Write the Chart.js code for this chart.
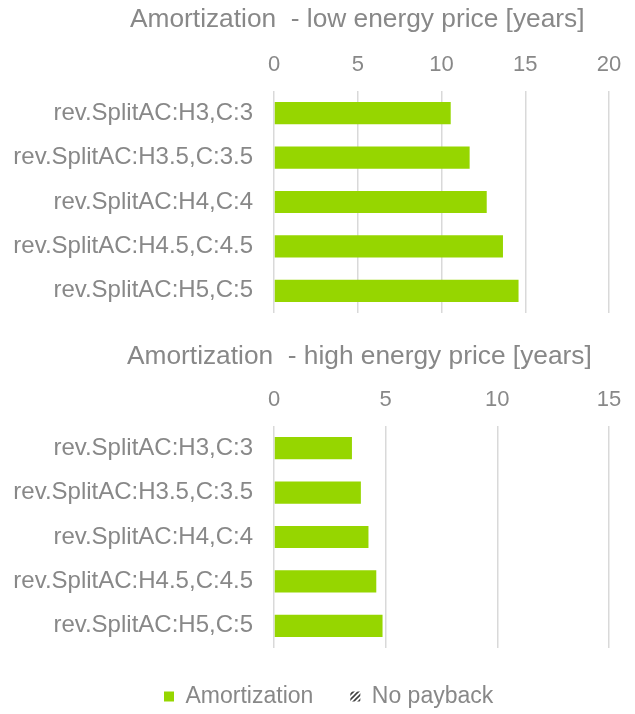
<!DOCTYPE html>
<html>
<head>
<meta charset="utf-8">
<script src="https://cdn.jsdelivr.net/npm/chart.js@4/dist/chart.umd.min.js"></script>
<style>
    html, body { margin: 0; padding: 0; background: #fff; overflow: hidden; }
    .box { position: absolute; left: 0; width: 635px; }
    #boxLow { top: 0; height: 330px; }
    #boxHigh { top: 330px; height: 388px; }
</style>
</head>
<body>
<div class="box" id="boxLow"><canvas id="graficoLow"></canvas></div>
<div class="box" id="boxHigh"><canvas id="graficoHigh"></canvas></div>
<script>
// dados
const categorias = ['rev.SplitAC:H3,C:3', 'rev.SplitAC:H3.5,C:3.5', 'rev.SplitAC:H4,C:4', 'rev.SplitAC:H4.5,C:4.5', 'rev.SplitAC:H5,C:5'];
const amortizacaoBaixo = [10.55, 11.68, 12.7, 13.67, 14.6];
const amortizacaoAlto = [3.49, 3.89, 4.23, 4.58, 4.86];
const semRetorno = [null, null, null, null, null];
const ticksBaixo = [0, 5, 10, 15, 20];
const ticksAlto = [0, 5, 10, 15];

const cinza = '#888888';
const verde = '#96d600';
Chart.defaults.font.family = '"Liberation Sans", Arial, sans-serif';
Chart.defaults.color = cinza;

// padrão hachurado para "No payback"
function criarHachura() {
    const c = document.createElement('canvas');
    c.width = 5; c.height = 5;
    const g = c.getContext('2d');
    g.strokeStyle = '#404040';
    g.lineWidth = 1.6;
    g.beginPath();
    g.moveTo(0, 5); g.lineTo(5, 0);
    g.moveTo(-2.5, 2.5); g.lineTo(2.5, -2.5);
    g.moveTo(2.5, 7.5); g.lineTo(7.5, 2.5);
    g.stroke();
    return g.createPattern(c, 'repeat');
}
const hachura = criarHachura();

// os rótulos do eixo y passam da borda esquerda do eixo; não cortar
const semCorte = {
    id: 'semCorte',
    afterLayout: chart => { chart.scales.y.left = 0; }
};

function criarGrafico(id, titulo, valores, maximo, ticks, comLegenda, pad) {
    const ctx = document.getElementById(id).getContext('2d');
    return new Chart(ctx, {
        type: 'bar',
        data: {
            labels: categorias,
            datasets: [{
                label: 'Amortization',
                data: valores,
                backgroundColor: verde,
                borderWidth: 0,
                categoryPercentage: 1,
                barPercentage: 0.5
            }, {
                label: 'No payback',
                data: semRetorno,
                backgroundColor: hachura,
                borderWidth: 0,
                categoryPercentage: 1,
                barPercentage: 0.5
            }]
        },
        options: {
            indexAxis: 'y',
            responsive: true,
            maintainAspectRatio: false,
            animation: false,
            layout: { padding: pad, autoPadding: false },
            scales: {
                x: {
                    position: 'top',
                    stacked: true,
                    min: 0,
                    max: maximo,
                    afterBuildTicks: axis => { axis.ticks = ticks.map(v => ({ value: v })); },
                    grid: { color: '#d9d9d9', lineWidth: 1.5, drawTicks: false },
                    border: { display: false },
                    ticks: { font: { size: 22 }, padding: 13, color: cinza }
                },
                y: {
                    stacked: true,
                    grid: { display: false, drawTicks: false },
                    border: { display: false },
                    afterFit: axis => {
                        axis.width = 274 - pad.left;
                        axis.paddingTop = 0;
                        axis.paddingBottom = 0;
                    },
                    ticks: { font: { size: 24 }, padding: 21, color: cinza }
                }
            },
            plugins: {
                title: {
                    display: true,
                    text: titulo,
                    align: 'start',
                    color: cinza,
                    font: { size: 26.3, weight: 'normal' },
                    padding: { top: 0, bottom: pad.tituloBaixo }
                },
                legend: {
                    display: comLegenda,
                    position: 'bottom',
                    align: 'start',
                    labels: {
                        boxWidth: 10,
                        boxHeight: 10,
                        padding: 37,
                        color: cinza,
                        font: { size: 23 }
                    }
                },
                tooltip: { enabled: false }
            }
        },
        plugins: [semCorte]
    });
}

document.addEventListener('DOMContentLoaded', () => {
    window.graficoLow = criarGrafico('graficoLow', 'Amortization  - low energy price [years]',
        amortizacaoBaixo, 20, ticksBaixo, false,
        { left: 130, right: 26, top: 4, bottom: 17, tituloBaixo: 3 });
    window.graficoHigh = criarGrafico('graficoHigh', 'Amortization  - high energy price [years]',
        amortizacaoAlto, 15, ticksAlto, true,
        { left: 127, right: 26, top: 11, bottom: 0, tituloBaixo: 1 });
});
</script>
</body>
</html>
